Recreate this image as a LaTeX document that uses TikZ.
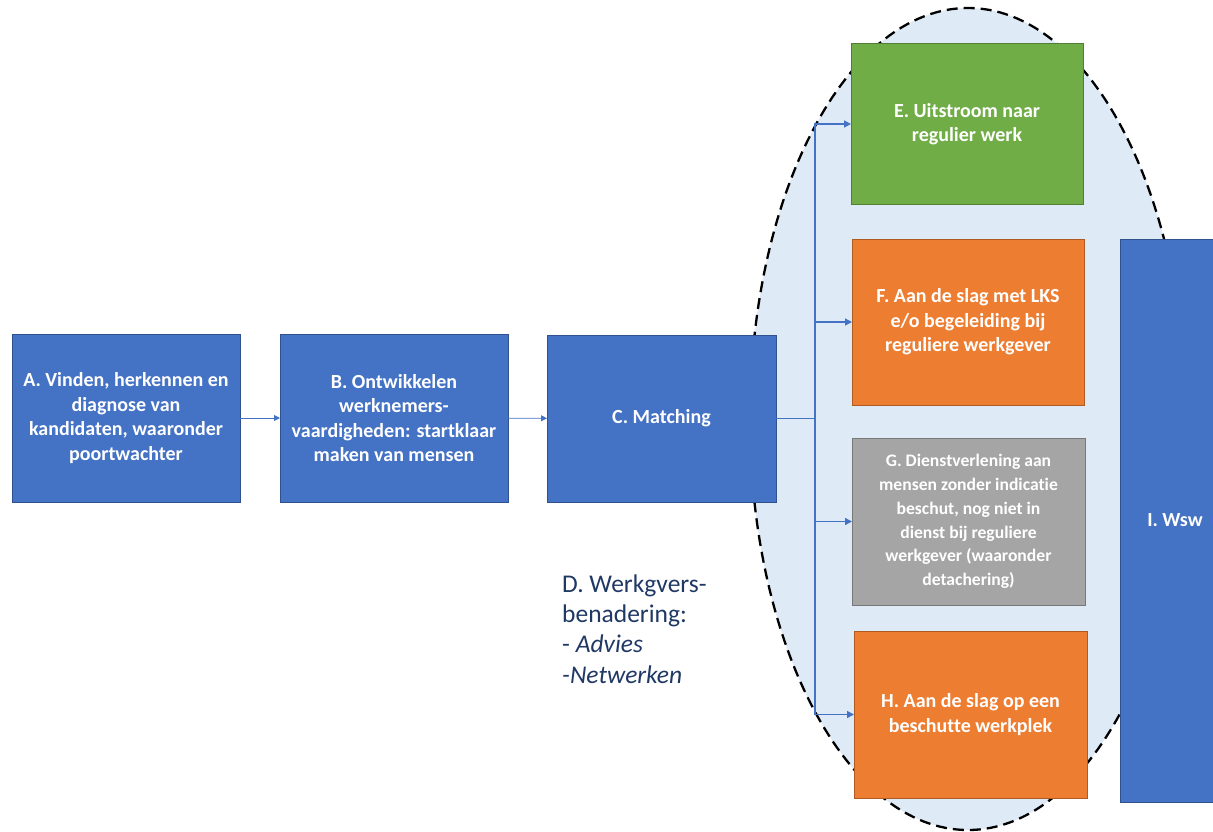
\documentclass[tikz,border=0pt]{standalone}
\usepackage{fontspec}
\setmainfont{Carlito}[Ligatures={NoCommon}]
\usetikzlibrary{arrows.meta}
\definecolor{cblue}{HTML}{4472C4}
\definecolor{cbluedk}{HTML}{2F528F}
\definecolor{cgreen}{HTML}{70AD47}
\definecolor{cgreendk}{HTML}{507E32}
\definecolor{corange}{HTML}{ED7D31}
\definecolor{corangedk}{HTML}{AE5A21}
\definecolor{cgray}{HTML}{A5A5A5}
\definecolor{cgraydk}{HTML}{787878}
\definecolor{cell}{HTML}{DEEBF7}
\definecolor{cnavy}{HTML}{1F3864}
\begin{document}
\begin{tikzpicture}[x=1pt,y=-1pt,
  box/.style={rectangle, inner sep=0pt, outer sep=0pt, line width=1pt, text=white,
    font=\bfseries\fontsize{20}{24.5}\selectfont, align=center},
  gfont/.style={font=\bfseries\fontsize{17.6}{23.7}\selectfont},
  bluebox/.style={box, fill=cblue, draw=cbluedk},
  greenbox/.style={box, fill=cgreen, draw=cgreendk},
  orangebox/.style={box, fill=corange, draw=corangedk},
  graybox/.style={box, fill=cgray, draw=cgraydk},
  conn/.style={draw=cblue, line width=1.3pt, -{Triangle[length=7pt,width=7pt]}},
  thinconn/.style={draw=cblue, line width=0.9pt, -{Triangle[length=6pt,width=6pt]}},
  plain/.style={draw=cblue, line width=1.3pt}
]
\useasboundingbox (0,0) rectangle (1213,831);
% ellipse
\draw[fill=cell, draw=black, line width=2.3pt, dash pattern=on 11pt off 6pt] (968,419) ellipse [x radius=218, y radius=411];

\node[bluebox, minimum width=228, minimum height=168] (A) at (126,418)
  {A. Vinden, herkennen en\\diagnose van\\kandidaten, waaronder\\poortwachter};
\node[bluebox, minimum width=228, minimum height=168] (B) at (394,418)
  {B. Ontwikkelen\\werknemers-\\vaardigheden: startklaar\\maken van mensen};
\node[bluebox, minimum width=229, minimum height=167] (C) at (661.5,418.5)
  {C. Matching};
\node[greenbox, minimum width=232, minimum height=161] (E) at (967,124)
  {E. Uitstroom naar\\regulier werk};
\node[orangebox, minimum width=232, minimum height=166] (F) at (968,322)
  {F. Aan de slag met LKS\\e/o begeleiding bij\\reguliere werkgever};
\node[graybox, gfont, minimum width=233, minimum height=167] (G) at (968.5,521.5)
  {G. Dienstverlening aan\\mensen zonder indicatie\\beschut, nog niet in\\dienst bij reguliere\\werkgever (waaronder\\detachering)};
\node[orangebox, minimum width=233, minimum height=167] (H) at (970.5,714.5)
  {H. Aan de slag op een\\beschutte werkplek};
\node[bluebox, minimum width=110, minimum height=563] (I) at (1175,520.5)
  {I. Wsw};

\node[anchor=base west, align=left, text=cnavy, inner sep=0pt,
  font=\fontsize{25.5}{30.3}\selectfont] (D) at (562,683)
  {D. Werkgvers-\\benadering:\\- \textit{Advies}\\\textit{-Netwerken}};

\draw[thinconn] (A) -- (B);
\draw[thinconn] (B) -- (C);
\coordinate (j) at (815,418.5);
\draw[plain] (C.east) -- (j);
\draw[conn] (j) |- (E.west);
\draw[conn] (j) |- (F.west);
\draw[conn] (j) |- (G.west);
\draw[conn] (j) |- (H.west);
\end{tikzpicture}
\end{document}
